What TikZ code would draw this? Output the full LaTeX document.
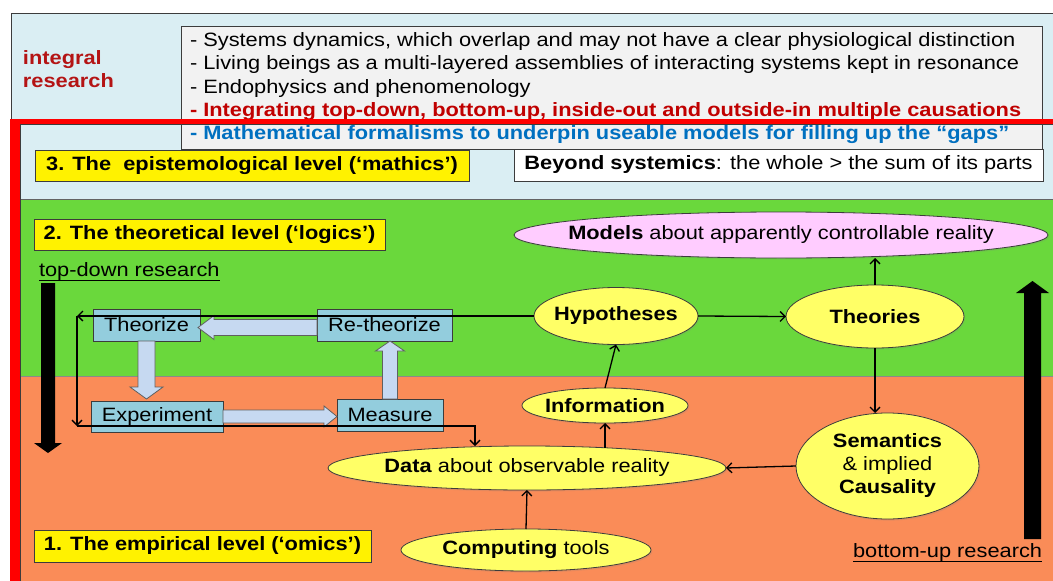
\documentclass[tikz,border=0pt]{standalone}
\usepackage{fontspec}
\setmainfont{Liberation Sans}[FakeStretch=1.13]
\usetikzlibrary{arrows.meta,shapes.geometric,calc,shadows}

\definecolor{bandblue}{RGB}{218,238,243}
\definecolor{bandgreen}{RGB}{106,216,60}
\definecolor{bandorange}{RGB}{250,140,88}
\definecolor{boxgray}{RGB}{242,242,242}
\definecolor{stepblue}{RGB}{147,205,221}
\definecolor{flowblue}{RGB}{198,217,241}
\definecolor{ovalyellow}{RGB}{255,255,102}
\definecolor{ovalpink}{RGB}{255,204,255}
\definecolor{darkred}{RGB}{192,0,0}
\definecolor{labelred}{RGB}{180,20,20}
\definecolor{textblue}{RGB}{0,112,192}
\definecolor{edge}{RGB}{60,60,60}
\definecolor{frame}{RGB}{255,0,0}

% wide block arrow from #1 to the tip #2:
% #3 half shaft width, #4 half head width, #5 head length (pt)
\newcommand{\flowarrow}[5]{%
  \coordinate (fa-s) at (#1);
  \coordinate (fa-t) at (#2);
  \coordinate (fa-h) at ($(fa-t)!#5pt!(fa-s)$);
  \draw[flowarrowstyle]
    ($(fa-s)!#3pt!90:(fa-t)$) -- ($(fa-h)!#3pt!-90:(fa-s)$) --
    ($(fa-h)!#4pt!-90:(fa-s)$) -- (fa-t) --
    ($(fa-h)!#4pt!90:(fa-s)$) -- ($(fa-h)!#3pt!90:(fa-s)$) --
    ($(fa-s)!#3pt!-90:(fa-t)$) -- cycle;}

\tikzset{
  txt/.style={font=\fontsize{19.3}{23}\selectfont, inner sep=0pt, outer sep=0pt},
  boldtxt/.style={txt, font=\fontsize{19.3}{23}\selectfont\bfseries},
  levelbox/.style={boldtxt, draw=edge, fill=yellow, line width=0.8pt},
  plainbox/.style={txt, draw=edge, line width=0.8pt},
  stepbox/.style={txt, draw=edge, fill=stepblue, line width=0.8pt},
  oval/.style={ellipse, draw=edge, fill=ovalyellow, line width=0.8pt, inner sep=0pt, outer sep=0pt,
    drop shadow={shadow xshift=1.2pt, shadow yshift=-1.6pt, opacity=0.18}},
  flowarrowstyle/.style={draw=gray!75!black, fill=flowblue, line width=0.8pt},
  link/.style={draw=black, line width=1.3pt, -{Straight Barb[length=5pt,width=10pt]}},
  bigarrow/.style={fill=black},
}

\begin{document}
\begin{tikzpicture}[x=1pt, y=-1pt]
\useasboundingbox (0,0) rectangle (1053,581);
\fill[white] (0,0) rectangle (1053,581);

% level bands
\fill[bandblue] (11,13) rectangle (1053,199);
\draw[edge, line width=0.8pt] (1053,13) -- (11,13) -- (11,199);
\fill[bandgreen] (20,199) rectangle (1053,376);
\fill[bandorange] (20,376) rectangle (1053,581);
\draw[edge!80, line width=0.8pt] (20,199) -- (1053,199);
\draw[edge!60, line width=0.6pt] (20,376) -- (1053,376);

% integral research notes
\node[plainbox, fill=boxgray, minimum width=861pt, minimum height=123pt] (notes) at (611.5,87.5) {};
\node[txt, anchor=base west] (n1) at (190,46.5) {- Systems dynamics, which overlap and may not have a clear physiological distinction};
\node[txt, anchor=base west] (n2) at (190,69.5) {- Living beings as a multi-layered assemblies of interacting systems kept in resonance};
\node[txt, anchor=base west] (n3) at (190,93) {- Endophysics and phenomenology};
\node[boldtxt, anchor=base west, text=darkred] (n4) at (190,116) {- Integrating top-down, bottom-up, inside-out and outside-in multiple causations};
\node[boldtxt, anchor=base west, text=textblue] (n5) at (190,139) {- Mathematical formalisms to underpin useable models for filling up the “gaps”};
\node[boldtxt, anchor=base west, align=left, text=labelred] (integral) at (23,87) {integral\\research};

% red frame around the three levels
\fill[frame] (10,119) rectangle (20,581);
\fill[frame] (10,119) rectangle (1053,124);
\draw[edge, line width=0.6pt] (20,581) -- (20,124) -- (1053,124);

% level labels
\node[levelbox, minimum width=434pt, minimum height=31pt] (lvl3) at (252,165.5) {3. The\ \ epistemological level (‘mathics’)};
\node[plainbox, fill=white, minimum width=529pt, minimum height=32pt] (beyond) at (778.5,165) {\textbf{Beyond systemics}: the whole > the sum of its parts};
\node[levelbox, minimum width=351pt, minimum height=31pt] (lvl2) at (209.5,234.5) {2. The theoretical level (‘logics’)};
\node[levelbox, minimum width=337pt, minimum height=32pt] (lvl1) at (202.5,546) {1. The empirical level (‘omics’)};

% research directions
\node[txt, anchor=base west] (tdr) at (39,276) {top-down research};
\draw[line width=0.9pt] ([yshift=-4pt]tdr.base west) -- ([yshift=-4pt]tdr.base east);
\node[txt, anchor=base west] (bur) at (853,557) {bottom-up research};
\draw[line width=0.9pt] ([yshift=-4pt]bur.base west) -- ([yshift=-4pt]bur.base east);
\fill[bigarrow] (41,283) -- (55,283) -- (55,443) -- (62,443) -- (48,453) -- (34,443) -- (41,443) -- cycle;
\fill[bigarrow] (1024,539) -- (1041,539) -- (1041,293) -- (1049,293) -- (1032.5,281) -- (1016,293) -- (1024,293) -- cycle;

% research cycle
\node[stepbox, minimum width=107pt, minimum height=32pt] (thz) at (146.5,325) {Theorize};
\node[stepbox, minimum width=135pt, minimum height=32pt] (rth) at (384.5,325) {Re-theorize};
\node[stepbox, minimum width=132pt, minimum height=31pt] (exp) at (157,416.5) {Experiment};
\node[stepbox, minimum width=106pt, minimum height=32pt] (meas) at (390,415) {Measure};

\flowarrow{thz.south}{$(thz.south |- exp.north)+(0,-2)$}{8.5}{16.5}{12}
\flowarrow{meas.north}{meas.north |- rth.south}{7.5}{14.5}{10}
\flowarrow{$(rth.west)+(0,2.5)$}{$(thz.east)+(-2,2.5)$}{8}{12}{16}
\flowarrow{exp.east}{exp.east -| meas.west}{6.5}{10.5}{13}

% knowledge ovals (outline first, label on top)
\node[oval, fill=ovalpink, minimum width=534pt, minimum height=46pt] (mod) at (781,235) {};
\node[txt] (mod-t) at (mod.center) {\textbf{Models} about apparently controllable reality};
\node[oval, minimum width=164pt, minimum height=57pt] (hyp) at (616,316) {};
\node[txt] (hyp-t) at (hyp.center) {\textbf{Hypotheses}};
\node[oval, minimum width=178pt, minimum height=63pt] (thy) at (875,316.5) {};
\node[txt] (thy-t) at (thy.center) {\textbf{Theories}};
\node[oval, minimum width=166pt, minimum height=35pt] (inf) at (605,405.5) {};
\node[txt] (inf-t) at (inf.center) {\textbf{Information}};
\node[oval, minimum width=398pt, minimum height=44pt] (dat) at (527,468) {};
\node[txt] (dat-t) at (dat.center) {\textbf{Data} about observable reality};
\node[oval, minimum width=250pt, minimum height=42pt] (cmp) at (526,550) {};
\node[txt] (cmp-t) at (cmp.center) {\textbf{Computing} tools};
\node[oval, minimum width=183pt, minimum height=106pt] (sem) at (887.5,466) {};
\node[txt, align=center] (sem-t) at (sem.center) {\textbf{Semantics}\\\& implied\\\textbf{Causality}};

% connectors
\coordinate (tl) at (77,316);
\coordinate (bl) at (77,426);
\coordinate (br) at (475,426);
\draw[link] (hyp.west) -- (tl);
\draw[link] (tl) -- (bl);
\draw[link] (bl) -- (br) -- (br |- dat.north);
\draw[link] (hyp.east) -- (thy.west);
\draw[link] (thy.north) -- (thy.north |- mod.south);
\draw[link] (thy.south) -- (thy.south |- sem.north);
\draw[link] (sem.west) -- (dat.east);
\draw[link] ($(inf.south |- dat.north)+(0,1.5)$) -- (inf.south);
\draw[link] (inf.north) -- (hyp.south);
\draw[link] (cmp.north) -- (dat.south);
\end{tikzpicture}
\end{document}
